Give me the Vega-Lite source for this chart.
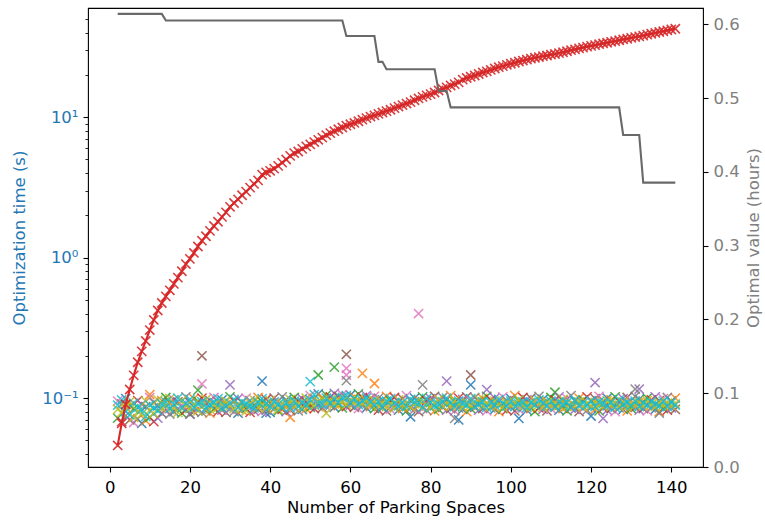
{
"$schema":"https://vega.github.io/schema/vega-lite/v6.json",
"width":615,"height":459,
"autosize":"none",
"padding":{"left":88,"top":8,"right":62,"bottom":55},
"config":{"font":"DejaVu Sans","view":{"stroke":"#000","strokeWidth":1.1},
"axis":{"grid":false,"domain":false,"tickColor":"#000","tickSize":5,"tickWidth":1.1,"labelFontSize":16.5,"titleFontSize":16.5,"titleFontWeight":"normal","labelColor":"#000","titleColor":"#000","labelFont":"DejaVu Sans","titleFont":"DejaVu Sans"}},
"datasets":{
"scatter":[
{"x":2,"y":0.072,"s":2},{"x":2,"y":0.095,"s":6},{"x":2,"y":0.083,"s":8},{"x":2,"y":0.089,"s":9},
{"x":3,"y":0.068,"s":3},{"x":3,"y":0.091,"s":7},{"x":3,"y":0.079,"s":8},{"x":3,"y":0.097,"s":9},
{"x":4,"y":0.075,"s":4},{"x":4,"y":0.099,"s":0},{"x":4,"y":0.086,"s":8},{"x":4,"y":0.080,"s":9},
{"x":5,"y":0.070,"s":5},{"x":5,"y":0.088,"s":1},{"x":5,"y":0.094,"s":8},{"x":5,"y":0.076,"s":9},
{"x":6,"y":0.067,"s":6},{"x":6,"y":0.084,"s":2},{"x":6,"y":0.073,"s":8},{"x":6,"y":0.092,"s":9},
{"x":7,"y":0.071,"s":7},{"x":7,"y":0.096,"s":3},{"x":7,"y":0.080,"s":8},{"x":7,"y":0.086,"s":9},
{"x":8,"y":0.066,"s":0},{"x":8,"y":0.090,"s":4},{"x":8,"y":0.077,"s":8},{"x":8,"y":0.083,"s":9},
{"x":9,"y":0.069,"s":1},{"x":9,"y":0.087,"s":5},{"x":9,"y":0.095,"s":8},{"x":9,"y":0.074,"s":9},
{"x":10,"y":0.073,"s":2},{"x":10,"y":0.101,"s":6},{"x":10,"y":0.082,"s":8},{"x":10,"y":0.089,"s":9},
{"x":11,"y":0.068,"s":3},{"x":11,"y":0.093,"s":7},{"x":11,"y":0.078,"s":8},{"x":11,"y":0.085,"s":9},
{"x":12,"y":0.072,"s":4},{"x":12,"y":0.088,"s":0},{"x":12,"y":0.097,"s":8},{"x":12,"y":0.081,"s":9},
{"x":13,"y":0.078,"s":5},{"x":13,"y":0.096,"s":1},{"x":13,"y":0.085,"s":8},{"x":13,"y":0.091,"s":9},
{"x":14,"y":0.081,"s":6},{"x":14,"y":0.101,"s":2},{"x":14,"y":0.088,"s":8},{"x":14,"y":0.094,"s":9},
{"x":15,"y":0.077,"s":7},{"x":15,"y":0.092,"s":3},{"x":15,"y":0.099,"s":8},{"x":15,"y":0.084,"s":9},
{"x":16,"y":0.080,"s":0},{"x":16,"y":0.097,"s":4},{"x":16,"y":0.086,"s":8},{"x":16,"y":0.090,"s":9},
{"x":17,"y":0.083,"s":1},{"x":17,"y":0.094,"s":5},{"x":17,"y":0.079,"s":8},{"x":17,"y":0.100,"s":9},
{"x":18,"y":0.078,"s":2},{"x":18,"y":0.089,"s":6},{"x":18,"y":0.096,"s":8},{"x":18,"y":0.085,"s":9},
{"x":19,"y":0.082,"s":3},{"x":19,"y":0.102,"s":7},{"x":19,"y":0.088,"s":8},{"x":19,"y":0.092,"s":9},
{"x":20,"y":0.077,"s":4},{"x":20,"y":0.093,"s":0},{"x":20,"y":0.084,"s":8},{"x":20,"y":0.098,"s":9},
{"x":21,"y":0.080,"s":5},{"x":21,"y":0.099,"s":1},{"x":21,"y":0.090,"s":8},{"x":21,"y":0.086,"s":9},
{"x":22,"y":0.083,"s":6},{"x":22,"y":0.095,"s":2},{"x":22,"y":0.081,"s":8},{"x":22,"y":0.091,"s":9},
{"x":23,"y":0.079,"s":7},{"x":23,"y":0.100,"s":3},{"x":23,"y":0.087,"s":8},{"x":23,"y":0.094,"s":9},
{"x":24,"y":0.081,"s":0},{"x":24,"y":0.092,"s":4},{"x":24,"y":0.098,"s":8},{"x":24,"y":0.085,"s":9},
{"x":25,"y":0.078,"s":1},{"x":25,"y":0.096,"s":5},{"x":25,"y":0.083,"s":8},{"x":25,"y":0.090,"s":9},
{"x":26,"y":0.084,"s":2},{"x":26,"y":0.101,"s":6},{"x":26,"y":0.089,"s":8},{"x":26,"y":0.093,"s":9},
{"x":27,"y":0.080,"s":3},{"x":27,"y":0.094,"s":7},{"x":27,"y":0.086,"s":8},{"x":27,"y":0.099,"s":9},
{"x":28,"y":0.082,"s":4},{"x":28,"y":0.097,"s":0},{"x":28,"y":0.091,"s":8},{"x":28,"y":0.085,"s":9},
{"x":29,"y":0.079,"s":5},{"x":29,"y":0.090,"s":1},{"x":29,"y":0.095,"s":8},{"x":29,"y":0.087,"s":9},
{"x":30,"y":0.083,"s":6},{"x":30,"y":0.102,"s":2},{"x":30,"y":0.088,"s":8},{"x":30,"y":0.092,"s":9},
{"x":31,"y":0.080,"s":7},{"x":31,"y":0.095,"s":3},{"x":31,"y":0.084,"s":8},{"x":31,"y":0.098,"s":9},
{"x":32,"y":0.078,"s":0},{"x":32,"y":0.099,"s":4},{"x":32,"y":0.090,"s":8},{"x":32,"y":0.086,"s":9},
{"x":33,"y":0.082,"s":1},{"x":33,"y":0.093,"s":5},{"x":33,"y":0.087,"s":8},{"x":33,"y":0.094,"s":9},
{"x":34,"y":0.084,"s":2},{"x":34,"y":0.100,"s":6},{"x":34,"y":0.081,"s":8},{"x":34,"y":0.091,"s":9},
{"x":35,"y":0.079,"s":3},{"x":35,"y":0.096,"s":7},{"x":35,"y":0.092,"s":8},{"x":35,"y":0.088,"s":9},
{"x":36,"y":0.081,"s":4},{"x":36,"y":0.089,"s":0},{"x":36,"y":0.097,"s":8},{"x":36,"y":0.085,"s":9},
{"x":37,"y":0.083,"s":5},{"x":37,"y":0.101,"s":1},{"x":37,"y":0.086,"s":8},{"x":37,"y":0.093,"s":9},
{"x":38,"y":0.080,"s":6},{"x":38,"y":0.094,"s":2},{"x":38,"y":0.090,"s":8},{"x":38,"y":0.099,"s":9},
{"x":39,"y":0.082,"s":7},{"x":39,"y":0.098,"s":3},{"x":39,"y":0.085,"s":8},{"x":39,"y":0.091,"s":9},
{"x":40,"y":0.079,"s":0},{"x":40,"y":0.092,"s":4},{"x":40,"y":0.096,"s":8},{"x":40,"y":0.087,"s":9},
{"x":41,"y":0.084,"s":1},{"x":41,"y":0.100,"s":5},{"x":41,"y":0.089,"s":8},{"x":41,"y":0.094,"s":9},
{"x":42,"y":0.081,"s":2},{"x":42,"y":0.095,"s":6},{"x":42,"y":0.083,"s":8},{"x":42,"y":0.090,"s":9},
{"x":43,"y":0.083,"s":3},{"x":43,"y":0.102,"s":7},{"x":43,"y":0.092,"s":8},{"x":43,"y":0.086,"s":9},
{"x":44,"y":0.080,"s":4},{"x":44,"y":0.097,"s":0},{"x":44,"y":0.087,"s":8},{"x":44,"y":0.093,"s":9},
{"x":45,"y":0.082,"s":5},{"x":45,"y":0.090,"s":1},{"x":45,"y":0.098,"s":8},{"x":45,"y":0.085,"s":9},
{"x":46,"y":0.085,"s":6},{"x":46,"y":0.101,"s":2},{"x":46,"y":0.088,"s":8},{"x":46,"y":0.095,"s":9},
{"x":47,"y":0.081,"s":7},{"x":47,"y":0.096,"s":3},{"x":47,"y":0.091,"s":8},{"x":47,"y":0.087,"s":9},
{"x":48,"y":0.083,"s":0},{"x":48,"y":0.099,"s":4},{"x":48,"y":0.085,"s":8},{"x":48,"y":0.093,"s":9},
{"x":49,"y":0.084,"s":1},{"x":49,"y":0.094,"s":5},{"x":49,"y":0.100,"s":8},{"x":49,"y":0.089,"s":9},
{"x":50,"y":0.086,"s":2},{"x":50,"y":0.104,"s":6},{"x":50,"y":0.092,"s":8},{"x":50,"y":0.097,"s":9},
{"x":51,"y":0.084,"s":3},{"x":51,"y":0.099,"s":7},{"x":51,"y":0.089,"s":8},{"x":51,"y":0.106,"s":9},
{"x":52,"y":0.088,"s":4},{"x":52,"y":0.107,"s":0},{"x":52,"y":0.095,"s":8},{"x":52,"y":0.091,"s":9},
{"x":53,"y":0.085,"s":5},{"x":53,"y":0.101,"s":1},{"x":53,"y":0.098,"s":8},{"x":53,"y":0.090,"s":9},
{"x":54,"y":0.087,"s":6},{"x":54,"y":0.105,"s":2},{"x":54,"y":0.093,"s":8},{"x":54,"y":0.100,"s":9},
{"x":55,"y":0.089,"s":7},{"x":55,"y":0.102,"s":3},{"x":55,"y":0.096,"s":8},{"x":55,"y":0.092,"s":9},
{"x":56,"y":0.086,"s":0},{"x":56,"y":0.108,"s":4},{"x":56,"y":0.091,"s":8},{"x":56,"y":0.099,"s":9},
{"x":57,"y":0.088,"s":1},{"x":57,"y":0.103,"s":5},{"x":57,"y":0.097,"s":8},{"x":57,"y":0.093,"s":9},
{"x":58,"y":0.085,"s":2},{"x":58,"y":0.106,"s":6},{"x":58,"y":0.094,"s":8},{"x":58,"y":0.101,"s":9},
{"x":59,"y":0.087,"s":3},{"x":59,"y":0.100,"s":7},{"x":59,"y":0.090,"s":8},{"x":59,"y":0.104,"s":9},
{"x":60,"y":0.089,"s":4},{"x":60,"y":0.105,"s":0},{"x":60,"y":0.096,"s":8},{"x":60,"y":0.092,"s":9},
{"x":61,"y":0.086,"s":5},{"x":61,"y":0.102,"s":1},{"x":61,"y":0.093,"s":8},{"x":61,"y":0.099,"s":9},
{"x":62,"y":0.084,"s":6},{"x":62,"y":0.107,"s":2},{"x":62,"y":0.098,"s":8},{"x":62,"y":0.090,"s":9},
{"x":63,"y":0.088,"s":7},{"x":63,"y":0.101,"s":3},{"x":63,"y":0.092,"s":8},{"x":63,"y":0.096,"s":9},
{"x":64,"y":0.085,"s":0},{"x":64,"y":0.104,"s":4},{"x":64,"y":0.095,"s":8},{"x":64,"y":0.100,"s":9},
{"x":65,"y":0.087,"s":1},{"x":65,"y":0.099,"s":5},{"x":65,"y":0.091,"s":8},{"x":65,"y":0.094,"s":9},
{"x":66,"y":0.084,"s":2},{"x":66,"y":0.103,"s":6},{"x":66,"y":0.096,"s":8},{"x":66,"y":0.089,"s":9},
{"x":67,"y":0.082,"s":3},{"x":67,"y":0.100,"s":7},{"x":67,"y":0.088,"s":8},{"x":67,"y":0.094,"s":9},
{"x":68,"y":0.085,"s":4},{"x":68,"y":0.097,"s":0},{"x":68,"y":0.092,"s":8},{"x":68,"y":0.086,"s":9},
{"x":69,"y":0.081,"s":5},{"x":69,"y":0.103,"s":1},{"x":69,"y":0.087,"s":8},{"x":69,"y":0.095,"s":9},
{"x":70,"y":0.083,"s":6},{"x":70,"y":0.096,"s":2},{"x":70,"y":0.090,"s":8},{"x":70,"y":0.099,"s":9},
{"x":71,"y":0.086,"s":7},{"x":71,"y":0.101,"s":3},{"x":71,"y":0.085,"s":8},{"x":71,"y":0.092,"s":9},
{"x":72,"y":0.082,"s":0},{"x":72,"y":0.094,"s":4},{"x":72,"y":0.097,"s":8},{"x":72,"y":0.088,"s":9},
{"x":73,"y":0.084,"s":1},{"x":73,"y":0.099,"s":5},{"x":73,"y":0.089,"s":8},{"x":73,"y":0.093,"s":9},
{"x":74,"y":0.081,"s":2},{"x":74,"y":0.104,"s":6},{"x":74,"y":0.092,"s":8},{"x":74,"y":0.087,"s":9},
{"x":75,"y":0.085,"s":3},{"x":75,"y":0.095,"s":7},{"x":75,"y":0.086,"s":8},{"x":75,"y":0.098,"s":9},
{"x":76,"y":0.083,"s":4},{"x":76,"y":0.100,"s":0},{"x":76,"y":0.091,"s":8},{"x":76,"y":0.094,"s":9},
{"x":77,"y":0.080,"s":5},{"x":77,"y":0.097,"s":1},{"x":77,"y":0.088,"s":8},{"x":77,"y":0.092,"s":9},
{"x":78,"y":0.084,"s":6},{"x":78,"y":0.102,"s":2},{"x":78,"y":0.094,"s":8},{"x":78,"y":0.086,"s":9},
{"x":79,"y":0.082,"s":7},{"x":79,"y":0.096,"s":3},{"x":79,"y":0.089,"s":8},{"x":79,"y":0.099,"s":9},
{"x":80,"y":0.085,"s":0},{"x":80,"y":0.099,"s":4},{"x":80,"y":0.086,"s":8},{"x":80,"y":0.093,"s":9},
{"x":81,"y":0.081,"s":1},{"x":81,"y":0.103,"s":5},{"x":81,"y":0.092,"s":8},{"x":81,"y":0.088,"s":9},
{"x":82,"y":0.083,"s":2},{"x":82,"y":0.095,"s":6},{"x":82,"y":0.098,"s":8},{"x":82,"y":0.090,"s":9},
{"x":83,"y":0.086,"s":3},{"x":83,"y":0.101,"s":7},{"x":83,"y":0.087,"s":8},{"x":83,"y":0.094,"s":9},
{"x":84,"y":0.082,"s":4},{"x":84,"y":0.097,"s":0},{"x":84,"y":0.091,"s":8},{"x":84,"y":0.100,"s":9},
{"x":85,"y":0.084,"s":5},{"x":85,"y":0.104,"s":1},{"x":85,"y":0.088,"s":8},{"x":85,"y":0.093,"s":9},
{"x":86,"y":0.081,"s":6},{"x":86,"y":0.094,"s":2},{"x":86,"y":0.096,"s":8},{"x":86,"y":0.087,"s":9},
{"x":87,"y":0.085,"s":7},{"x":87,"y":0.100,"s":3},{"x":87,"y":0.090,"s":8},{"x":87,"y":0.095,"s":9},
{"x":88,"y":0.083,"s":0},{"x":88,"y":0.098,"s":4},{"x":88,"y":0.086,"s":8},{"x":88,"y":0.092,"s":9},
{"x":89,"y":0.080,"s":1},{"x":89,"y":0.102,"s":5},{"x":89,"y":0.093,"s":8},{"x":89,"y":0.089,"s":9},
{"x":90,"y":0.084,"s":2},{"x":90,"y":0.096,"s":6},{"x":90,"y":0.089,"s":8},{"x":90,"y":0.099,"s":9},
{"x":91,"y":0.086,"s":3},{"x":91,"y":0.101,"s":7},{"x":91,"y":0.092,"s":8},{"x":91,"y":0.087,"s":9},
{"x":92,"y":0.082,"s":4},{"x":92,"y":0.095,"s":0},{"x":92,"y":0.098,"s":8},{"x":92,"y":0.090,"s":9},
{"x":93,"y":0.084,"s":5},{"x":93,"y":0.099,"s":1},{"x":93,"y":0.088,"s":8},{"x":93,"y":0.094,"s":9},
{"x":94,"y":0.081,"s":6},{"x":94,"y":0.103,"s":2},{"x":94,"y":0.091,"s":8},{"x":94,"y":0.086,"s":9},
{"x":95,"y":0.085,"s":7},{"x":95,"y":0.097,"s":3},{"x":95,"y":0.087,"s":8},{"x":95,"y":0.093,"s":9},
{"x":96,"y":0.083,"s":0},{"x":96,"y":0.100,"s":4},{"x":96,"y":0.095,"s":8},{"x":96,"y":0.089,"s":9},
{"x":97,"y":0.080,"s":1},{"x":97,"y":0.094,"s":5},{"x":97,"y":0.090,"s":8},{"x":97,"y":0.098,"s":9},
{"x":98,"y":0.084,"s":2},{"x":98,"y":0.102,"s":6},{"x":98,"y":0.086,"s":8},{"x":98,"y":0.092,"s":9},
{"x":99,"y":0.082,"s":3},{"x":99,"y":0.096,"s":7},{"x":99,"y":0.093,"s":8},{"x":99,"y":0.088,"s":9},
{"x":100,"y":0.086,"s":4},{"x":100,"y":0.099,"s":0},{"x":100,"y":0.089,"s":8},{"x":100,"y":0.095,"s":9},
{"x":101,"y":0.081,"s":5},{"x":101,"y":0.104,"s":1},{"x":101,"y":0.092,"s":8},{"x":101,"y":0.087,"s":9},
{"x":102,"y":0.083,"s":6},{"x":102,"y":0.095,"s":2},{"x":102,"y":0.097,"s":8},{"x":102,"y":0.091,"s":9},
{"x":103,"y":0.085,"s":7},{"x":103,"y":0.101,"s":3},{"x":103,"y":0.088,"s":8},{"x":103,"y":0.094,"s":9},
{"x":104,"y":0.082,"s":0},{"x":104,"y":0.097,"s":4},{"x":104,"y":0.091,"s":8},{"x":104,"y":0.086,"s":9},
{"x":105,"y":0.084,"s":1},{"x":105,"y":0.100,"s":5},{"x":105,"y":0.087,"s":8},{"x":105,"y":0.093,"s":9},
{"x":106,"y":0.080,"s":2},{"x":106,"y":0.094,"s":6},{"x":106,"y":0.096,"s":8},{"x":106,"y":0.089,"s":9},
{"x":107,"y":0.085,"s":3},{"x":107,"y":0.103,"s":7},{"x":107,"y":0.090,"s":8},{"x":107,"y":0.097,"s":9},
{"x":108,"y":0.083,"s":4},{"x":108,"y":0.098,"s":0},{"x":108,"y":0.086,"s":8},{"x":108,"y":0.092,"s":9},
{"x":109,"y":0.081,"s":5},{"x":109,"y":0.095,"s":1},{"x":109,"y":0.093,"s":8},{"x":109,"y":0.088,"s":9},
{"x":110,"y":0.084,"s":6},{"x":110,"y":0.101,"s":2},{"x":110,"y":0.089,"s":8},{"x":110,"y":0.095,"s":9},
{"x":111,"y":0.086,"s":7},{"x":111,"y":0.097,"s":3},{"x":111,"y":0.092,"s":8},{"x":111,"y":0.087,"s":9},
{"x":112,"y":0.082,"s":0},{"x":112,"y":0.102,"s":4},{"x":112,"y":0.088,"s":8},{"x":112,"y":0.094,"s":9},
{"x":113,"y":0.084,"s":1},{"x":113,"y":0.096,"s":5},{"x":113,"y":0.098,"s":8},{"x":113,"y":0.090,"s":9},
{"x":114,"y":0.081,"s":2},{"x":114,"y":0.099,"s":6},{"x":114,"y":0.087,"s":8},{"x":114,"y":0.093,"s":9},
{"x":115,"y":0.085,"s":3},{"x":115,"y":0.104,"s":7},{"x":115,"y":0.091,"s":8},{"x":115,"y":0.086,"s":9},
{"x":116,"y":0.083,"s":4},{"x":116,"y":0.095,"s":0},{"x":116,"y":0.089,"s":8},{"x":116,"y":0.097,"s":9},
{"x":117,"y":0.080,"s":5},{"x":117,"y":0.100,"s":1},{"x":117,"y":0.094,"s":8},{"x":117,"y":0.088,"s":9},
{"x":118,"y":0.084,"s":6},{"x":118,"y":0.097,"s":2},{"x":118,"y":0.086,"s":8},{"x":118,"y":0.092,"s":9},
{"x":119,"y":0.082,"s":7},{"x":119,"y":0.102,"s":3},{"x":119,"y":0.092,"s":8},{"x":119,"y":0.089,"s":9},
{"x":120,"y":0.086,"s":0},{"x":120,"y":0.096,"s":4},{"x":120,"y":0.088,"s":8},{"x":120,"y":0.095,"s":9},
{"x":121,"y":0.083,"s":1},{"x":121,"y":0.099,"s":5},{"x":121,"y":0.093,"s":8},{"x":121,"y":0.087,"s":9},
{"x":122,"y":0.081,"s":2},{"x":122,"y":0.103,"s":6},{"x":122,"y":0.090,"s":8},{"x":122,"y":0.094,"s":9},
{"x":123,"y":0.085,"s":3},{"x":123,"y":0.095,"s":7},{"x":123,"y":0.087,"s":8},{"x":123,"y":0.091,"s":9},
{"x":124,"y":0.082,"s":4},{"x":124,"y":0.100,"s":0},{"x":124,"y":0.096,"s":8},{"x":124,"y":0.088,"s":9},
{"x":125,"y":0.084,"s":5},{"x":125,"y":0.097,"s":1},{"x":125,"y":0.089,"s":8},{"x":125,"y":0.093,"s":9},
{"x":126,"y":0.080,"s":6},{"x":126,"y":0.102,"s":2},{"x":126,"y":0.092,"s":8},{"x":126,"y":0.086,"s":9},
{"x":127,"y":0.085,"s":7},{"x":127,"y":0.094,"s":3},{"x":127,"y":0.088,"s":8},{"x":127,"y":0.097,"s":9},
{"x":128,"y":0.083,"s":0},{"x":128,"y":0.099,"s":4},{"x":128,"y":0.094,"s":8},{"x":128,"y":0.090,"s":9},
{"x":129,"y":0.081,"s":1},{"x":129,"y":0.101,"s":5},{"x":129,"y":0.087,"s":8},{"x":129,"y":0.093,"s":9},
{"x":130,"y":0.084,"s":2},{"x":130,"y":0.096,"s":6},{"x":130,"y":0.091,"s":8},{"x":130,"y":0.088,"s":9},
{"x":131,"y":0.086,"s":3},{"x":131,"y":0.103,"s":7},{"x":131,"y":0.089,"s":8},{"x":131,"y":0.095,"s":9},
{"x":132,"y":0.082,"s":4},{"x":132,"y":0.098,"s":0},{"x":132,"y":0.093,"s":8},{"x":132,"y":0.087,"s":9},
{"x":133,"y":0.084,"s":5},{"x":133,"y":0.095,"s":1},{"x":133,"y":0.088,"s":8},{"x":133,"y":0.092,"s":9},
{"x":134,"y":0.081,"s":6},{"x":134,"y":0.100,"s":2},{"x":134,"y":0.096,"s":8},{"x":134,"y":0.089,"s":9},
{"x":135,"y":0.085,"s":7},{"x":135,"y":0.097,"s":3},{"x":135,"y":0.090,"s":8},{"x":135,"y":0.094,"s":9},
{"x":136,"y":0.083,"s":0},{"x":136,"y":0.102,"s":4},{"x":136,"y":0.087,"s":8},{"x":136,"y":0.091,"s":9},
{"x":137,"y":0.080,"s":1},{"x":137,"y":0.096,"s":5},{"x":137,"y":0.093,"s":8},{"x":137,"y":0.088,"s":9},
{"x":138,"y":0.084,"s":2},{"x":138,"y":0.099,"s":6},{"x":138,"y":0.089,"s":8},{"x":138,"y":0.095,"s":9},
{"x":139,"y":0.082,"s":3},{"x":139,"y":0.101,"s":7},{"x":139,"y":0.092,"s":8},{"x":139,"y":0.087,"s":9},
{"x":140,"y":0.085,"s":4},{"x":140,"y":0.095,"s":0},{"x":140,"y":0.088,"s":8},{"x":140,"y":0.093,"s":9},
{"x":141,"y":0.083,"s":5},{"x":141,"y":0.100,"s":1},{"x":141,"y":0.091,"s":8},{"x":141,"y":0.089,"s":9},
{"x":10,"y":0.106,"s":1},{"x":20,"y":0.077,"s":7},{"x":22,"y":0.114,"s":2},{"x":23,"y":0.2,"s":5},{"x":23,"y":0.126,"s":6},
{"x":30,"y":0.124,"s":4},{"x":38,"y":0.132,"s":0},{"x":39,"y":0.078,"s":0},{"x":45,"y":0.073,"s":1},{"x":50,"y":0.131,"s":9},
{"x":52,"y":0.146,"s":2},{"x":54,"y":0.078,"s":8},{"x":56,"y":0.166,"s":2},{"x":59,"y":0.163,"s":6},{"x":59,"y":0.146,"s":6},
{"x":59,"y":0.133,"s":7},{"x":59,"y":0.205,"s":5},{"x":63,"y":0.15,"s":1},{"x":66,"y":0.127,"s":1},{"x":75,"y":0.0736,"s":0},
{"x":77,"y":0.40,"s":6},{"x":78,"y":0.124,"s":7},{"x":84,"y":0.132,"s":4},{"x":86,"y":0.0717,"s":7},{"x":87,"y":0.070,"s":0},
{"x":90,"y":0.146,"s":5},{"x":90,"y":0.124,"s":0},{"x":94,"y":0.115,"s":4},{"x":102,"y":0.0717,"s":0},{"x":111,"y":0.11,"s":2},
{"x":120,"y":0.0745,"s":0},{"x":121,"y":0.129,"s":4},{"x":123,"y":0.0717,"s":4},{"x":131,"y":0.116,"s":7},{"x":132,"y":0.116,"s":4},
{"x":137,"y":0.078,"s":7}
],
"red":[
{"x":2,"y":0.046},{"x":3,"y":0.066},{"x":4,"y":0.09},{"x":5,"y":0.115},{"x":6,"y":0.145},{"x":7,"y":0.18},{"x":8,"y":0.215},{"x":9,"y":0.255},{"x":10,"y":0.305},
{"x":11,"y":0.36},{"x":12,"y":0.42},{"x":13,"y":0.475},{"x":14,"y":0.53},{"x":15,"y":0.585},{"x":16,"y":0.65},{"x":17,"y":0.72},{"x":18,"y":0.8},{"x":19,"y":0.9},{"x":20,"y":0.98},
{"x":21,"y":1.08},{"x":22,"y":1.2},{"x":23,"y":1.32},{"x":24,"y":1.42},{"x":25,"y":1.55},{"x":26,"y":1.68},{"x":27,"y":1.8},{"x":28,"y":1.95},{"x":29,"y":2.1},{"x":30,"y":2.3},
{"x":31,"y":2.45},{"x":32,"y":2.6},{"x":33,"y":2.78},{"x":34,"y":2.95},{"x":35,"y":3.15},{"x":36,"y":3.35},{"x":37,"y":3.55},{"x":38,"y":3.9},{"x":39,"y":4.05},{"x":40,"y":4.15},
{"x":41,"y":4.3},{"x":42,"y":4.5},{"x":43,"y":4.75},{"x":44,"y":5.0},{"x":45,"y":5.3},{"x":46,"y":5.55},{"x":47,"y":5.7},{"x":48,"y":5.95},{"x":49,"y":6.2},{"x":50,"y":6.4},
{"x":51,"y":6.65},{"x":52,"y":6.9},{"x":53,"y":7.15},{"x":54,"y":7.45},{"x":55,"y":7.7},{"x":56,"y":7.95},{"x":57,"y":8.2},{"x":58,"y":8.45},{"x":59,"y":8.7},{"x":60,"y":8.9},
{"x":61,"y":9.1},{"x":62,"y":9.35},{"x":63,"y":9.6},{"x":64,"y":9.85},{"x":65,"y":10.1},{"x":66,"y":10.3},{"x":67,"y":10.55},{"x":68,"y":10.8},{"x":69,"y":11.05},{"x":70,"y":11.3},
{"x":71,"y":11.6},{"x":72,"y":11.9},{"x":73,"y":12.2},{"x":74,"y":12.5},{"x":75,"y":12.8},{"x":76,"y":13.2},{"x":77,"y":13.6},{"x":78,"y":13.95},{"x":79,"y":14.3},{"x":80,"y":14.6},
{"x":81,"y":15.0},{"x":82,"y":15.5},{"x":83,"y":15.9},{"x":84,"y":16.3},{"x":85,"y":16.8},{"x":86,"y":17.2},{"x":87,"y":17.7},{"x":88,"y":18.5},{"x":89,"y":19.0},{"x":90,"y":19.4},
{"x":91,"y":19.8},{"x":92,"y":20.3},{"x":93,"y":20.8},{"x":94,"y":21.2},{"x":95,"y":21.7},{"x":96,"y":22.2},{"x":97,"y":22.7},{"x":98,"y":23.1},{"x":99,"y":23.6},{"x":100,"y":24.0},
{"x":101,"y":24.4},{"x":102,"y":24.9},{"x":103,"y":25.3},{"x":104,"y":25.7},{"x":105,"y":26.1},{"x":106,"y":26.5},{"x":107,"y":26.8},{"x":108,"y":27.2},{"x":109,"y":27.5},{"x":110,"y":27.9},
{"x":111,"y":28.2},{"x":112,"y":28.6},{"x":113,"y":29.0},{"x":114,"y":29.5},{"x":115,"y":30.0},{"x":116,"y":30.4},{"x":117,"y":30.9},{"x":118,"y":31.3},{"x":119,"y":31.8},{"x":120,"y":32.2},
{"x":121,"y":32.6},{"x":122,"y":33.1},{"x":123,"y":33.5},{"x":124,"y":33.9},{"x":125,"y":34.4},{"x":126,"y":34.8},{"x":127,"y":35.3},{"x":128,"y":35.8},{"x":129,"y":36.2},{"x":130,"y":36.7},
{"x":131,"y":37.2},{"x":132,"y":37.6},{"x":133,"y":38.1},{"x":134,"y":38.7},{"x":135,"y":39.3},{"x":136,"y":39.8},{"x":137,"y":40.4},{"x":138,"y":40.9},{"x":139,"y":41.5},{"x":140,"y":42.1},
{"x":141,"y":42.6}
],
"gray":[
{"x":2,"v":0.614},{"x":13,"v":0.614},{"x":14,"v":0.605},{"x":58,"v":0.605},{"x":59,"v":0.584},{"x":66,"v":0.584},{"x":67,"v":0.549},{"x":68,"v":0.549},{"x":69,"v":0.539},
{"x":81,"v":0.539},{"x":82,"v":0.5095},{"x":84,"v":0.5095},{"x":85,"v":0.4874},{"x":127,"v":0.4874},{"x":128,"v":0.45},{"x":132,"v":0.45},{"x":133,"v":0.3853},{"x":141,"v":0.3853}
]
},
"layer":[
{"layer":[
{"data":{"name":"scatter"},
"mark":{"type":"point","shape":"M-1,-1L1,1M-1,1L1,-1","filled":false,"size":85,"strokeWidth":1.5,"opacity":0.85},
"encoding":{
"x":{"field":"x","type":"quantitative","scale":{"domain":[-5.4,147.9],"nice":false,"zero":false},"axis":{"values":[0,20,40,60,80,100,120,140],"title":"Number of Parking Spaces","labelPadding":7,"titlePadding":4,"labelFlush":false}},
"y":{"field":"y","type":"quantitative","scale":{"type":"log","domain":[0.0323,59.9],"nice":false},
"axis":{"title":"Optimization time (s)","values":[0.04,0.05,0.06,0.07,0.08,0.09,0.1,0.2,0.3,0.4,0.5,0.6,0.7,0.8,0.9,1,2,3,4,5,6,7,8,9,10,20,30,40,50],
"labelExpr":"datum.value == 10 ? '10¹' : datum.value == 1 ? '10⁰' : datum.value == 0.1 ? '10⁻¹' : ''",
"labelOverlap":false,"labelColor":"#1f77b4","titleColor":"#1f77b4","labelPadding":5,"titlePadding":14,
"tickDash":{"condition":{"test":"datum.value == 0.1 || datum.value == 1 || datum.value == 10","value":[]},"value":[3,20]},
"tickWidth":{"condition":{"test":"datum.value == 0.1 || datum.value == 1 || datum.value == 10","value":1.1},"value":0.85}}},
"color":{"field":"s","type":"nominal","scale":{"domain":[0,1,2,3,4,5,6,7,8,9],"range":["#1f77b4","#ff7f0e","#2ca02c","#d62728","#9467bd","#8c564b","#e377c2","#7f7f7f","#bcbd22","#17becf"]},"legend":null},
"order":{"field":"s","type":"quantitative"}
}},
{"data":{"name":"red"},
"mark":{"type":"line","color":"#d62728","strokeWidth":2.1},
"encoding":{
"x":{"field":"x","type":"quantitative","scale":{"domain":[-5.4,147.9],"nice":false,"zero":false}},
"y":{"field":"y","type":"quantitative","scale":{"type":"log","domain":[0.0323,59.9],"nice":false}}
}},
{"data":{"name":"red"},
"mark":{"type":"point","shape":"M-1,-1L1,1M-1,1L1,-1","filled":false,"size":85,"strokeWidth":1.6,"color":"#d62728","opacity":0.9},
"encoding":{
"x":{"field":"x","type":"quantitative","scale":{"domain":[-5.4,147.9],"nice":false,"zero":false}},
"y":{"field":"y","type":"quantitative","scale":{"type":"log","domain":[0.0323,59.9],"nice":false}}
}}
]},
{"data":{"name":"gray"},
"mark":{"type":"line","color":"#696969","strokeWidth":2.1},
"encoding":{
"x":{"field":"x","type":"quantitative","scale":{"domain":[-5.4,147.9],"nice":false,"zero":false}},
"y":{"field":"v","type":"quantitative","scale":{"domain":[0,0.622],"nice":false,"zero":true},
"axis":{"orient":"right","title":"Optimal value (hours)","values":[0,0.1,0.2,0.3,0.4,0.5,0.6],"format":".1f","labelColor":"#808080","titleColor":"#808080","titleAngle":270,"titleBaseline":"top","labelPadding":5,"titlePadding":6}}
}}
],
"resolve":{"scale":{"y":"independent"}}
}
